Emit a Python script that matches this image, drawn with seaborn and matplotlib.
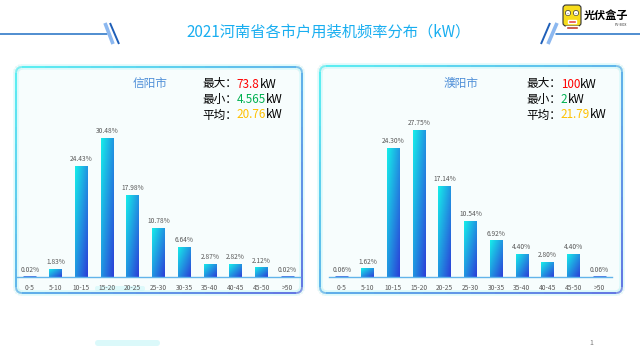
import numpy as np
import matplotlib
matplotlib.use("Agg")
import matplotlib.pyplot as plt
import seaborn as sns
from matplotlib.patches import FancyBboxPatch, Circle, Rectangle
from matplotlib.collections import LineCollection
from matplotlib.colors import LinearSegmentedColormap, to_rgb

# ---- data ----
bins = ["0-5", "5-10", "10-15", "15-20", "20-25", "25-30",
        "30-35", "35-40", "40-45", "45-50", ">50"]
xinyang_pct = [0.02, 1.83, 24.43, 30.48, 17.98, 10.78, 6.64, 2.87, 2.82, 2.12, 0.02]
puyang_pct = [0.06, 1.62, 24.30, 27.75, 17.14, 10.54, 6.92, 4.40, 2.80, 4.40, 0.06]
xinyang_stats = ["73.8", "4.565", "20.76"]
puyang_stats = ["100", "2", "21.79"]
stat_labels = ["最大：", "最小：", "平均："]
stat_colors = ["#ff0000", "#00b050", "#ffc000"]
title = "2021河南省各市户用装机频率分布（kW）"

sns.set_theme(style="white")
plt.rcParams["font.family"] = ["Noto Sans CJK SC", "DejaVu Sans"]

bar_cmap = LinearSegmentedColormap.from_list("bar", ["#16eeea", "#2b3ed8"])


def gradient_border(ax, x, y, w, h, c0, c1, pad=6):
    box = FancyBboxPatch((x, y), w, h, boxstyle=f"round,pad=0,rounding_size={pad}",
                         facecolor="#f7fdfd", edgecolor="none", zorder=1)
    ax.add_patch(box)
    poly = box.get_path().to_polygons()[0]
    pts = []
    for a, b in zip(poly[:-1], poly[1:]):
        for s in np.linspace(0, 1, 12, endpoint=False):
            pts.append(a + (b - a) * s)
    pts = np.array(pts + [poly[-1]])
    segs = np.stack([pts[:-1], pts[1:]], axis=1)
    mid = segs.mean(axis=1)
    t = ((mid[:, 0] - x) / w + (mid[:, 1] - y) / h) / 2
    t = np.clip(t, 0, 1)
    a0, a1 = np.array(to_rgb(c0)), np.array(to_rgb(c1))
    cols = a0[None, :] * (1 - t[:, None]) + a1[None, :] * t[:, None]
    # soft glow
    ax.add_collection(LineCollection(segs, colors="#bff7f8", linewidths=4, alpha=0.5, zorder=1))
    ax.add_collection(LineCollection(segs, colors=cols, linewidths=1.3, zorder=2))


def draw_panel(fig, rect, values, ymax, city, city_xy, stats, stats_xy, bg):
    ax = fig.add_axes(rect, zorder=2)
    ax.set_facecolor("none")
    sns.barplot(x=bins, y=values, ax=ax, width=0.5, color="#1ad6e8")
    for p in list(ax.patches):
        x0, y0 = p.get_x(), p.get_y()
        w, h = p.get_width(), p.get_height()
        u = np.linspace(0, 1, 40)
        grid = (u[None, :] + u[:, None]) / 2
        im = ax.imshow(grid, cmap=bar_cmap, vmin=0, vmax=1, extent=(x0, x0 + w, y0, y0 + h),
                       origin="upper", aspect="auto", zorder=2)
        im.set_clip_path(p)
        p.set_facecolor("none")
        if h < 0.3:
            # tiny shares still show as a thin line in the original
            p.set_edgecolor("#2d63dc")
            p.set_linewidth(1.8)
            p.set_zorder(4)
        else:
            p.set_edgecolor("none")
    ax.bar_label(ax.containers[0], labels=[f"{v:.2f}%" for v in values],
                 fontsize=4.8, color="#595959", padding=2)
    ax.set_xlim(-0.5, 10.5)
    ax.set_ylim(0, ymax)
    ax.set_xlabel("")
    ax.set_ylabel("")
    ax.set_yticks([])
    ax.tick_params(axis="x", length=0, labelsize=4.8, labelcolor="#595959", pad=5)
    for s in ["top", "right", "left"]:
        ax.spines[s].set_visible(False)
    ax.spines["bottom"].set_color("#62b4ea")
    ax.spines["bottom"].set_linewidth(1.0)

    bg.text(city_xy[0], city_xy[1], city, ha="center", va="center",
            fontsize=8.4, color="#4f8fd8", zorder=3)
    sx, sy = stats_xy
    for i, (lab, val, col) in enumerate(zip(stat_labels, stats, stat_colors)):
        t1 = bg.text(sx, sy + i * 15.5, lab, ha="left", va="center", fontsize=8.4,
                     color="black", zorder=3)
        t2 = bg.annotate(val, xy=(1, 0), xycoords=t1, ha="left", va="bottom",
                         fontsize=8.4, color=col, zorder=3)
        bg.annotate("kW", xy=(1, 0), xycoords=t2, ha="left", va="bottom",
                    fontsize=8.4, color="black", zorder=3)
    return ax


fig = plt.figure(figsize=(6.4, 3.6), dpi=100)
fig.patch.set_facecolor("white")

# background layer in pixel coordinates
bg = fig.add_axes([0, 0, 1, 1], zorder=0)
bg.set_xlim(0, 640)
bg.set_ylim(360, 0)
bg.axis("off")

# header decoration
bg.plot([0, 107], [34, 34], color="#1f6fc4", lw=1.1, zorder=2)
bg.plot([105, 113], [23, 44], color="#8cb8f0", lw=2.6, solid_capstyle="butt", zorder=2)
bg.plot([110, 119], [23, 44], color="#1f5fb8", lw=1.4, solid_capstyle="butt", zorder=2)
bg.plot([556, 640], [34, 34], color="#1f6fc4", lw=1.1, zorder=2)
bg.plot([541, 550], [44, 23], color="#1f5fb8", lw=1.4, solid_capstyle="butt", zorder=2)
bg.plot([548, 557], [44, 23], color="#8cb8f0", lw=2.6, solid_capstyle="butt", zorder=2)
bg.text(329, 33, title, ha="center", va="center", fontsize=11.0, color="#19aef0", zorder=3)

# logo
bg.add_patch(FancyBboxPatch((563, 5), 18, 21, boxstyle="round,pad=0,rounding_size=3",
                            facecolor="#f7dc1c", edgecolor="#333333", lw=0.8, zorder=3))
for ex in (568, 576):
    bg.add_patch(Circle((ex, 13), 2.6, facecolor="white", edgecolor="#333333", lw=0.5, zorder=4))
    bg.add_patch(Circle((ex, 13.4), 1.1, facecolor="black", zorder=5))
bg.add_patch(Rectangle((568, 20), 8, 3, facecolor="#e8453c", zorder=4))
bg.add_patch(Rectangle((566, 26), 12, 2.5, facecolor="#c0392b", zorder=4))
bg.text(606, 15, "光伏盒子", ha="center", va="center", fontsize=8, fontweight="bold",
        color="black", zorder=3)
bg.text(627, 25, "PV-BOX", ha="right", va="center", fontsize=2.5, color="#333333", zorder=3)

# panel boxes
gradient_border(bg, 16, 67, 286, 226, "#4ff0f2", "#5868e0")
gradient_border(bg, 320, 66, 302, 227, "#4ff0f2", "#5868e0")

# footer bits
bg.add_patch(FancyBboxPatch((95, 340), 65, 6, boxstyle="round,pad=0,rounding_size=3",
                            facecolor="#c4f6f8", edgecolor="none", alpha=0.6, zorder=1))
bg.add_patch(FancyBboxPatch((95, 286), 50, 5, boxstyle="round,pad=0,rounding_size=2",
                            facecolor="#c4f6f8", edgecolor="none", alpha=0.5, zorder=1))
bg.text(591, 343, "1", ha="center", va="center", fontsize=5, color="#777777", zorder=3)

draw_panel(fig, [17 / 640, 83 / 360, 283 / 640, 177 / 360], xinyang_pct, 38.8,
           "信阳市", (150, 83), xinyang_stats, (202, 84), bg)
draw_panel(fig, [329 / 640, 83 / 360, 283 / 640, 177 / 360], puyang_pct, 33.4,
           "濮阳市", (461, 83), puyang_stats, (526, 84), bg)

fig.savefig("out.png", dpi=100)
